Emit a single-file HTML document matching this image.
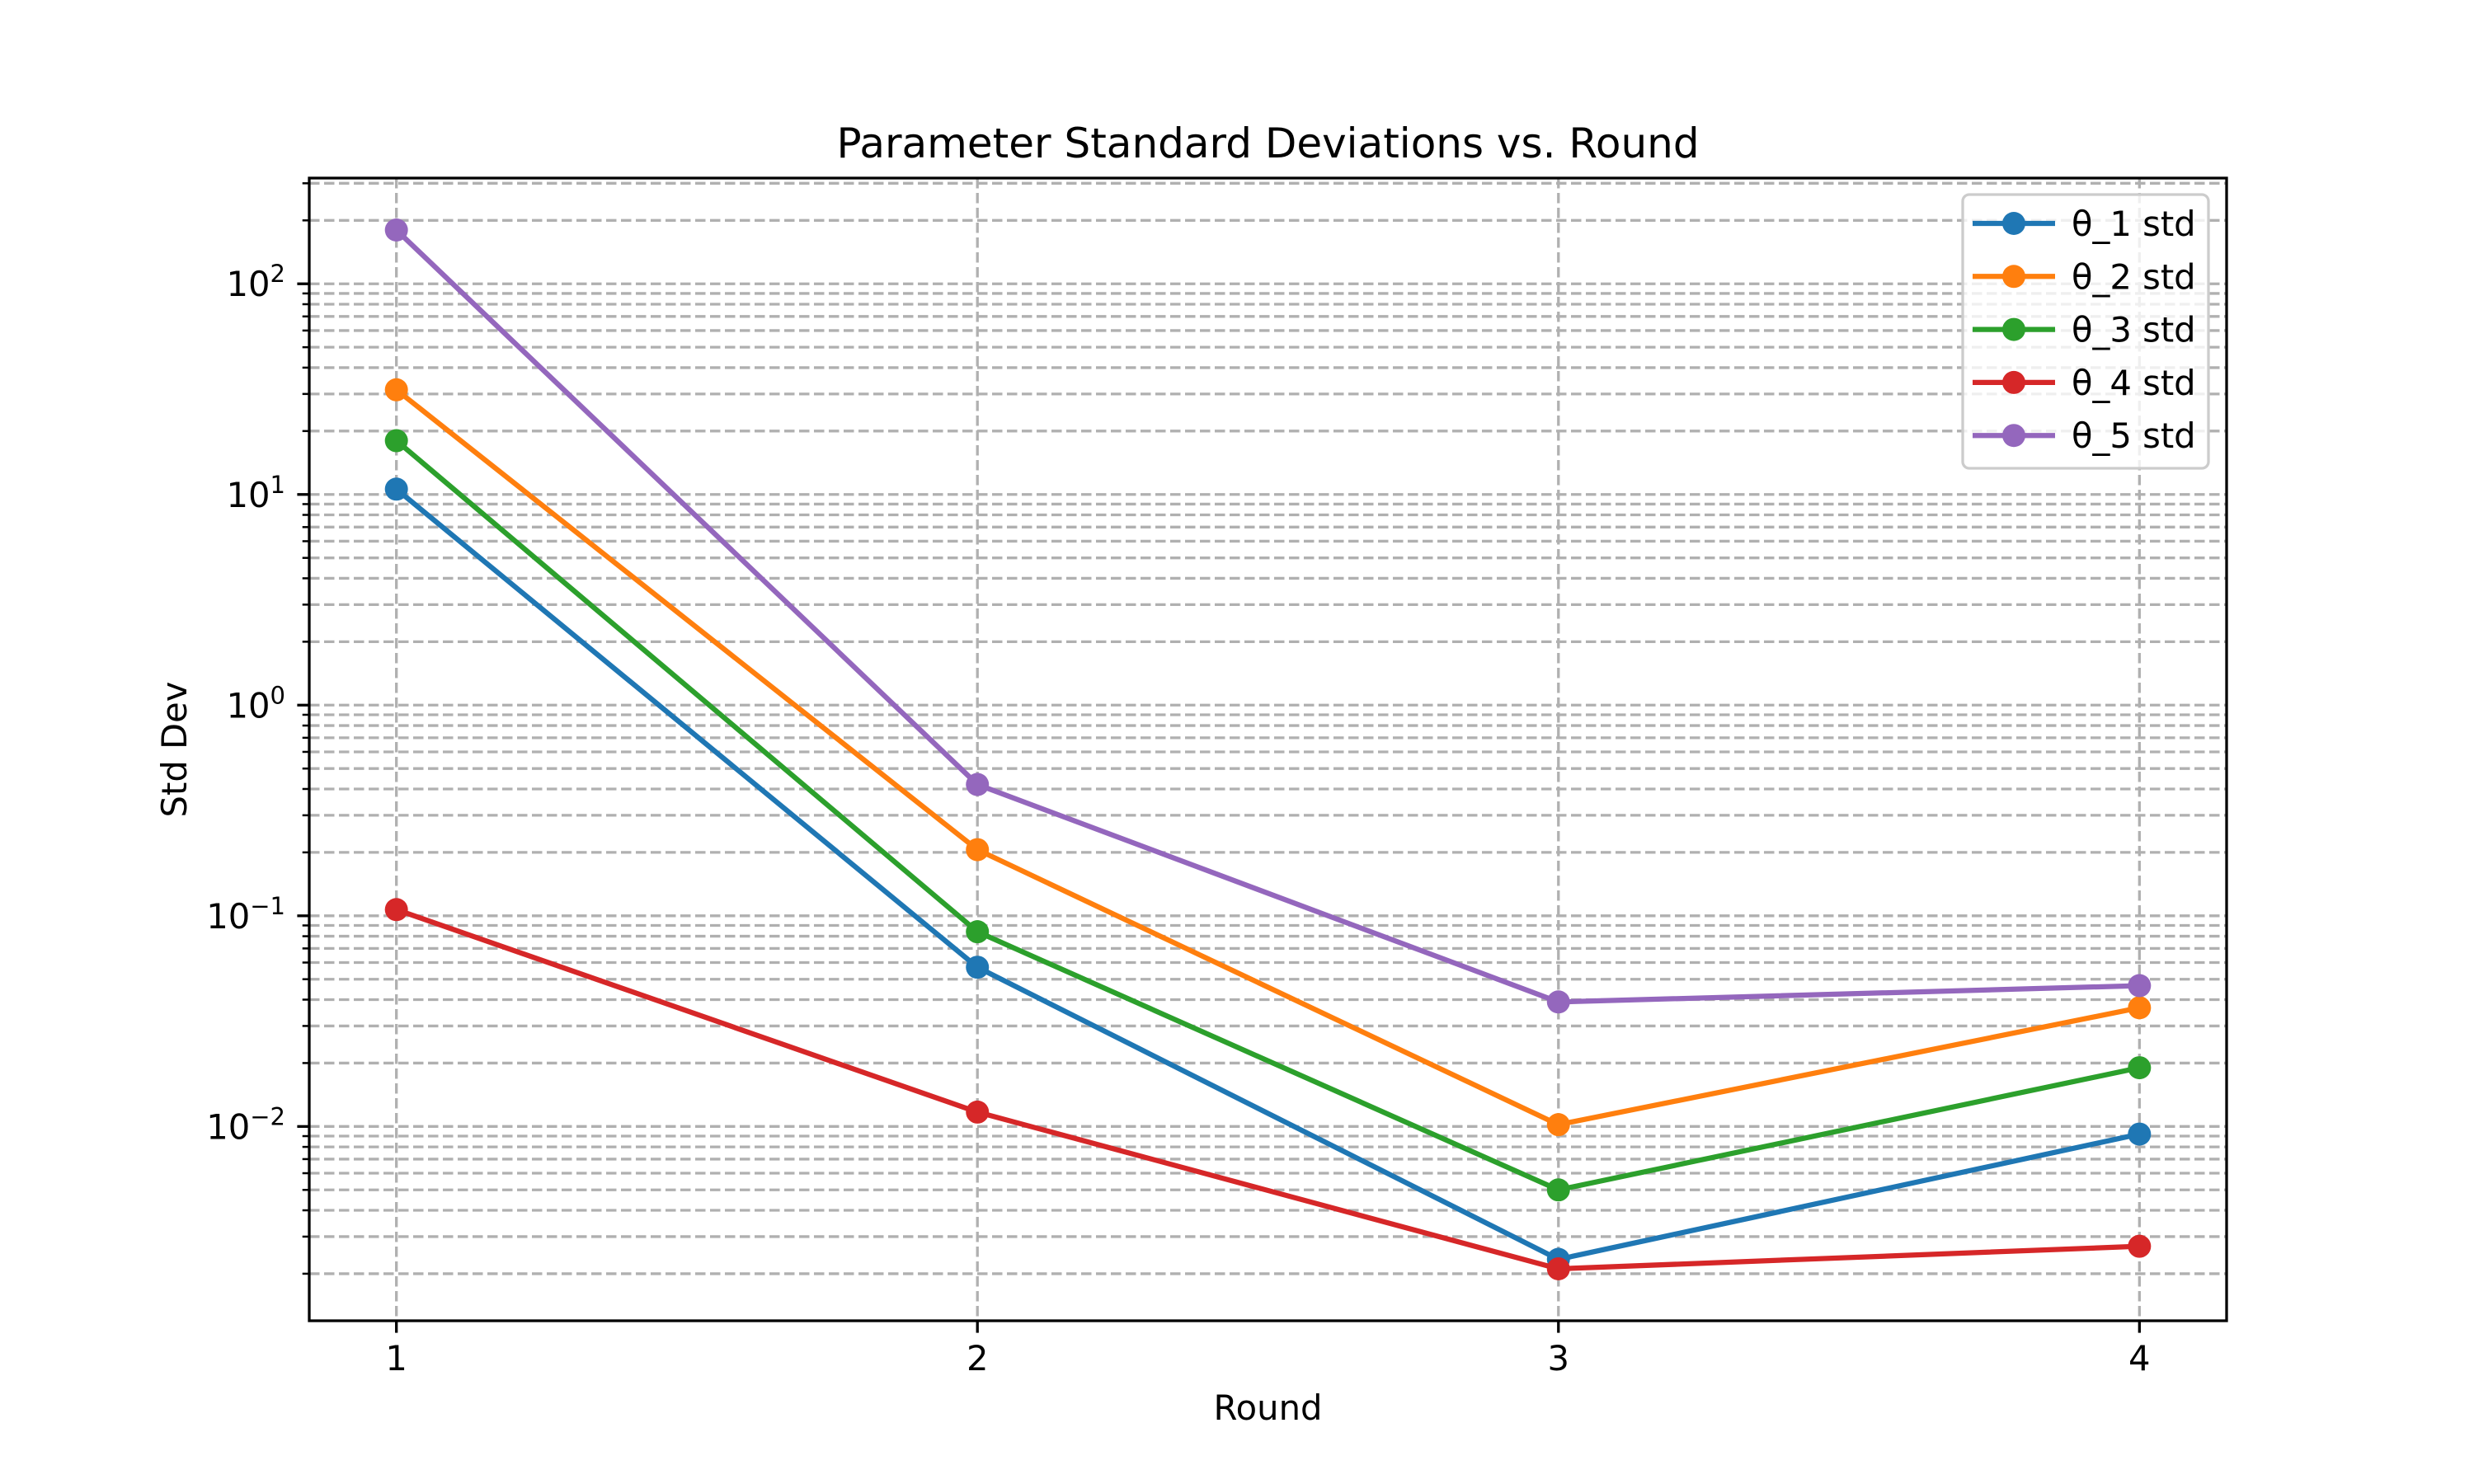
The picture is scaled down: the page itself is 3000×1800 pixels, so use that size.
<!DOCTYPE html>
<html><head><meta charset="utf-8"><style>html,body{margin:0;padding:0;background:#fff}svg{display:block}text{font-family:"DejaVu Sans","Liberation Sans",sans-serif}</style></head>
<body>
<svg id="chart" width="3000" height="1800" viewBox="0 0 3000 1800" xmlns="http://www.w3.org/2000/svg">
<rect width="3000" height="1800" fill="#fff"/>
<g id="grid"></g>
<g id="series"></g>
<g id="axes"></g>
<g id="legend"></g>
<text x="1537.5" y="191" font-size="50" text-anchor="middle">Parameter Standard Deviations vs. Round</text>
<text x="1537.5" y="1722" font-size="41.7" text-anchor="middle">Round</text>
<text x="0" y="0" font-size="41.7" text-anchor="middle" transform="translate(226,909) rotate(-90)">Std Dev</text>
</svg>
<script>
const rounds = [1, 2, 3, 4];
const theta1 = [10.6, 0.057, 0.00234, 0.0092];
const theta2 = [31.4, 0.206, 0.0102, 0.0366];
const theta3 = [18.0, 0.084, 0.0050, 0.019];
const theta4 = [0.107, 0.0117, 0.00211, 0.0027];
const theta5 = [180, 0.42, 0.039, 0.0466];
const seriesNames = ["θ_1 std", "θ_2 std", "θ_3 std", "θ_4 std", "θ_5 std"];
const yMajorExponents = [-2, -1, 0, 1, 2];

const NS = "http://www.w3.org/2000/svg";
const L = 375, R = 2700, T = 216, B = 1602;
const colors = ["#1f77b4", "#ff7f0e", "#2ca02c", "#d62728", "#9467bd"];
const all = [theta1, theta2, theta3, theta4, theta5];
const allVals = all.flat();
const lmin = Math.log10(Math.min(...allVals)), lmax = Math.log10(Math.max(...allVals));
const lm = (lmax - lmin) * 0.05;
const yLo = lmin - lm, yHi = lmax + lm;
const xLo = Math.min(...rounds), xHi = Math.max(...rounds), xm = (xHi - xLo) * 0.05;
function X(v) { return L + (v - (xLo - xm)) / ((xHi + xm) - (xLo - xm)) * (R - L); }
function Y(v) { return B - (Math.log10(v) - yLo) / (yHi - yLo) * (B - T); }
function mk(tag, attrs, parent) { const e = document.createElementNS(NS, tag); for (const k in attrs) e.setAttribute(k, attrs[k]); parent.appendChild(e); return e; }

const grid = document.getElementById('grid'), axes = document.getElementById('axes');
for (let k = -4; k <= 3; k++) {
  for (let m = 1; m <= 9; m++) {
    const v = m * Math.pow(10, k);
    const y = Y(v);
    if (y < T - 0.5 || y > B + 0.5) continue;
    const gl = mk('line', {x1: L, x2: R, y1: y, y2: y, stroke: '#b0b0b0', 'stroke-width': 3.3, 'stroke-dasharray': '12.5,5.5'}, grid);
    
    
    const tl = m === 1 ? 14.6 : 8.3;
    const tk = mk('line', {x1: L - tl, x2: L, y1: y, y2: y, stroke: '#000', 'stroke-width': m === 1 ? 3.3 : 2.5}, axes);
    
    
  }
}
yMajorExponents.forEach(e => {
  const y = Y(Math.pow(10, e));
  const t = mk('text', {x: L - 29, y: y + 15, 'font-size': 41.7, 'text-anchor': 'end'}, axes);
  
  
  const a = document.createElementNS(NS, 'tspan'); a.textContent = '10'; t.appendChild(a);
  const b = document.createElementNS(NS, 'tspan'); b.setAttribute('dy', -17); b.setAttribute('font-size', 29); b.textContent = e < 0 ? '\u2212' + (-e) : String(e); t.appendChild(b);
});
rounds.forEach(r => {
  const x = X(r);
  const gl = mk('line', {x1: x, x2: x, y1: T, y2: B, stroke: '#b0b0b0', 'stroke-width': 3.3, 'stroke-dasharray': '12.5,5.5'}, grid);
  
  
  const tk = mk('line', {x1: x, x2: x, y1: B, y2: B + 14.6, stroke: '#000', 'stroke-width': 3.3}, axes);
  
  
  const t = mk('text', {x: x, y: 1662, 'font-size': 41.7, 'text-anchor': 'middle'}, axes);
  
  
  t.textContent = String(r);
});
const frame = mk('rect', {x: L, y: T, width: R - L, height: B - T, fill: 'none', stroke: '#000', 'stroke-width': 3.3}, axes);



const sg = document.getElementById('series');
all.forEach((vals, i) => {
  const g = mk('g', {}, sg);
  
  
  const pl = mk('polyline', {points: vals.map((v, j) => X(rounds[j]) + ',' + Y(v)).join(' '), fill: 'none', stroke: colors[i], 'stroke-width': 6.25, 'stroke-linejoin': 'round', 'stroke-linecap': 'square'}, g);
  
  
  vals.forEach((v, j) => {
    const c = mk('circle', {cx: X(rounds[j]), cy: Y(v), r: 14, fill: colors[i]}, g);
    
    
  });
});

const lg = document.getElementById('legend');
const box = mk('rect', {x: 2380, y: 236, width: 298, height: 332, rx: 8, fill: 'rgba(255,255,255,0.8)', stroke: '#cccccc', 'stroke-width': 3.3}, lg);


seriesNames.forEach((n, i) => {
  const y = 271 + i * 64.3;
  const g = mk('g', {}, lg);
  
  
  mk('line', {x1: 2392, x2: 2492, y1: y, y2: y, stroke: colors[i], 'stroke-width': 6.25}, g);
  mk('circle', {cx: 2442, cy: y, r: 14, fill: colors[i]}, g);
  const t = mk('text', {x: 2512, y: y + 15, 'font-size': 41.7}, g);
  t.textContent = n;
});
</script>
</body></html>
